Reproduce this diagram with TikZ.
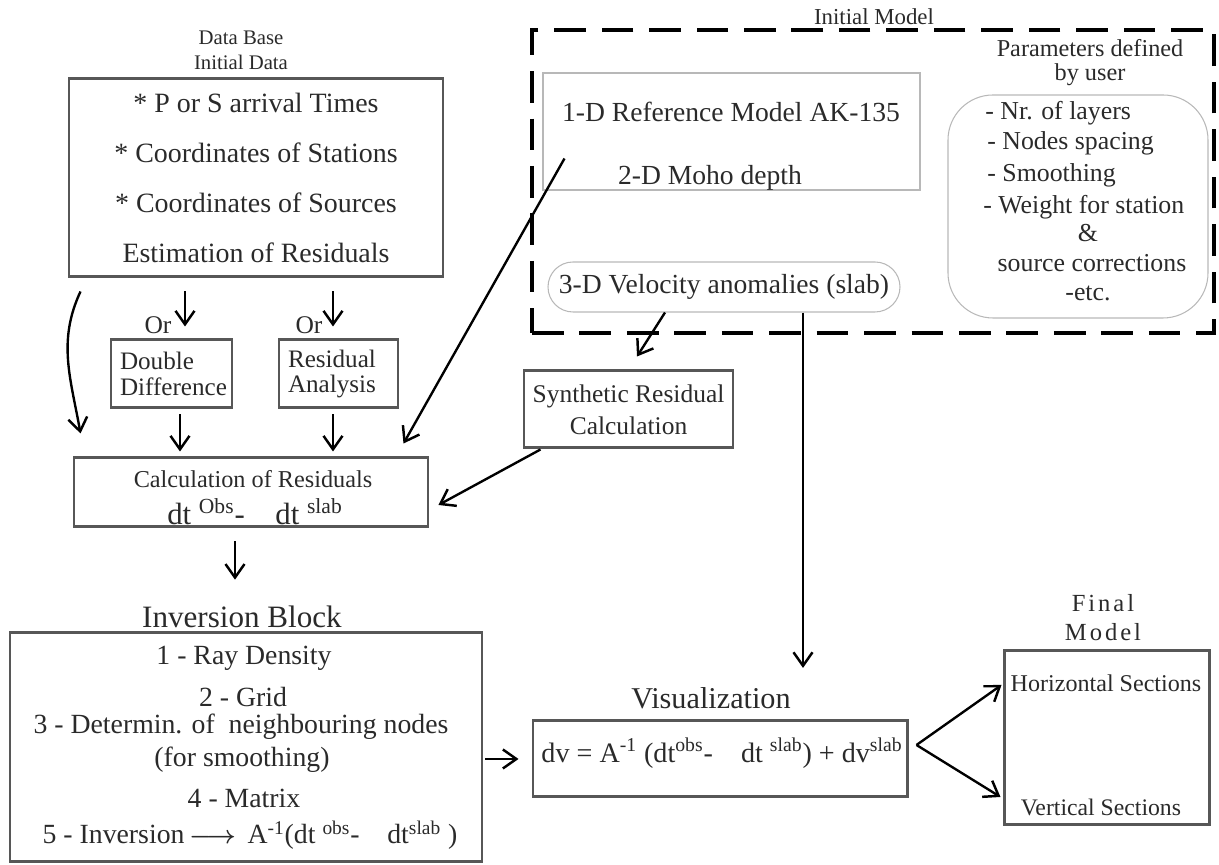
\documentclass[tikz,border=0pt]{standalone}
\usepackage{fontspec}
\setmainfont{Liberation Serif}
\usetikzlibrary{arrows.meta,positioning,calc}
\definecolor{BoxGray} {HTML}{575757}
\definecolor{LineGray}{HTML}{B8B8B8}
\definecolor{TextGray}{HTML}{2A2A2A}
\tikzset{
  gbox/.style={rectangle,draw=BoxGray,line width=1.7pt,inner sep=0pt},
  lbox/.style={rectangle,draw=LineGray,line width=0.6pt},
  dbox/.style={rectangle,draw=black,line width=2pt,dash pattern=on 18pt off 9pt},
  arr/.style={-{Straight Barb[length=2.7mm,width=3.8mm,line width=1.4pt]},line width=1.35pt},
  txt/.style={font=\fontsize{15.7}{18}\selectfont,text=TextGray,inner sep=0pt},
  ptxt/.style={font=\fontsize{14.7}{17}\selectfont,text=TextGray,inner sep=0pt},
  itxt/.style={font=\fontsize{15.8}{18}\selectfont,text=TextGray,inner sep=0pt},
  stxt/.style={font=\fontsize{13.7}{15}\selectfont,text=TextGray,inner sep=0pt},
}
\begin{document}
\begin{tikzpicture}
  \useasboundingbox (0,0) rectangle (24.38,17.30);

  % data base
  \node[stxt,font=\fontsize{11.8}{13}\selectfont] (dbtitle1) at (4.82,16.54){Data Base};
  \node[stxt,font=\fontsize{11.8}{13}\selectfont] (dbtitle2) at (4.82,16.06){Initial Data};
  \node[gbox,minimum width=7.48cm,minimum height=3.96cm,align=center,text=TextGray,
        font=\fontsize{15.9}{28.4}\selectfont] (dbase) at (5.12,13.74)
    {* P or S arrival Times\\* Coordinates of Stations\\* Coordinates of Sources\\Estimation of Residuals};

  % initial model
  \node[dbox,minimum width=13.64cm,minimum height=6.06cm] (initmodel) at (17.46,13.67){};
  \node[stxt,font=\fontsize{13}{15}\selectfont] (imlabel) at (17.48,16.96){Initial Model};
  \node[lbox,minimum width=7.54cm,minimum height=2.34cm] (refbox) at (14.63,14.67){};
  \node[txt] (ref1d) at (14.62,15.06){1-D Reference Model AK-135};
  \node[txt] (moho)  at (14.20,13.74){2-D Moho depth};
  \node[lbox,txt,rounded corners=0.5cm,minimum width=7.04cm,minimum height=1.0cm] (vel)
    at (14.48,11.56){3-D Velocity anomalies (slab)};

  \node[stxt,font=\fontsize{13.8}{15}\selectfont] (partitle1) at (21.80,16.34){Parameters defined};
  \node[stxt,font=\fontsize{13.8}{15}\selectfont] (partitle2) at (21.80,15.80){by user};
  \node[lbox,rounded corners=0.9cm,minimum width=5.20cm,minimum height=4.46cm] (params)
    at (21.56,13.17){};
  \node[ptxt,anchor=west] (par1) at (19.70,15.04){- Nr. of layers};
  \node[ptxt,anchor=west] (par2) at (19.74,14.44){- Nodes spacing};
  \node[ptxt,anchor=west] (par3) at (19.74,13.80){- Smoothing};
  \node[ptxt,anchor=west] (par4) at (19.66,13.16){- Weight for station};
  \node[ptxt] (par5) at (21.76,12.64){\&};
  \node[ptxt] (par6) at (21.84,12.04){source corrections};
  \node[ptxt] (par7) at (21.76,11.44){-etc.};

  % residual branches
  \node[ptxt,font=\fontsize{14.5}{16}\selectfont] (or1) at (3.16,10.80){Or};
  \node[ptxt,font=\fontsize{14.5}{16}\selectfont] (or2) at (6.18,10.80){Or};
  \node[gbox,minimum width=2.42cm,minimum height=1.36cm,inner xsep=0.18cm,text width=2.06cm,
        align=left,text=TextGray,font=\fontsize{14.3}{14.6}\selectfont] (dd)
    at (3.43,9.82){Double\\Difference};
  \node[gbox,minimum width=2.38cm,minimum height=1.36cm,inner xsep=0.18cm,text width=2.02cm,
        align=left,text=TextGray,font=\fontsize{14.3}{14.6}\selectfont] (ra)
    at (6.77,9.82){Residual\\Analysis};

  \node[gbox,minimum width=7.08cm,minimum height=1.38cm] (calc) at (5.02,7.45){};
  \node[stxt,font=\fontsize{13.8}{15}\selectfont,anchor=base] (calctxt) at (5.06,7.54)
    {Calculation of Residuals};
  \node[stxt,font=\fontsize{17.5}{20}\selectfont,anchor=base] (calceq) at (5.10,6.80)
    {dt \textsuperscript{Obs}-\quad dt \textsuperscript{slab}};

  \node[gbox,minimum width=4.18cm,minimum height=1.54cm,align=center,text=TextGray,
        font=\fontsize{14.5}{18.1}\selectfont] (syn) at (12.57,9.11)
    {Synthetic Residual\\Calculation};

  % inversion
  \node[txt,font=\fontsize{17.7}{20}\selectfont] (invlabel) at (4.84,4.96){Inversion Block};
  \node[gbox,minimum width=9.44cm,minimum height=4.58cm] (inv) at (4.92,2.35){};
  \node[itxt] (inv1) at (4.88,4.14){1 - Ray Density};
  \node[itxt] (inv2) at (4.86,3.36){2 - Grid};
  \node[itxt] (inv3) at (4.82,2.76){3 - Determin. of~ neighbouring nodes};
  \node[itxt] (inv4) at (4.84,2.10){(for smoothing)};
  \node[itxt] (inv5) at (4.88,1.34){4 - Matrix};
  \node[itxt] (inv6) at (5.00,0.60)
    {5 - Inversion\,{\boldmath$\longrightarrow$}\, A\textsuperscript{-1}(dt \textsuperscript{obs}-\quad dt\textsuperscript{slab} )};

  % visualization
  \node[txt,font=\fontsize{17.2}{20}\selectfont] (vizlabel) at (14.22,3.34){Visualization};
  \node[gbox,minimum width=7.48cm,minimum height=1.52cm] (viz) at (14.40,2.12){};
  \node[txt,font=\fontsize{16}{18}\selectfont,anchor=base] (vizeq) at (14.44,2.04)
    {dv = A\textsuperscript{-1} (dt\textsuperscript{obs}-\quad dt \textsuperscript{slab}) + dv\textsuperscript{slab}};

  % final model
  \node[txt,font=\fontsize{14}{16}\selectfont\addfontfeatures{LetterSpace=12}] (fin1) at (22.06,5.24){Final};
  \node[txt,font=\fontsize{14}{16}\selectfont\addfontfeatures{LetterSpace=12}] (fin2) at (22.06,4.66){Model};
  \node[gbox,minimum width=4.10cm,minimum height=3.48cm] (final) at (22.13,2.54){};
  \node[stxt] (hsec) at (22.12,3.64){Horizontal Sections};
  \node[stxt,font=\fontsize{13.5}{15}\selectfont] (vsec) at (22.02,1.16){Vertical Sections};

  % connectors
  \draw[arr] ($(dbase.south west)+(0.26,-0.26)$) to[out=-115,in=100] ($(calc.north west)+(0.16,0.46)$);
  \draw[arr] ($(dd.north |- dbase.south)+(0.27,-0.26)$) -- ($(dd.north)+(0.27,0.24)$);
  \draw[arr] ($(ra.north |- dbase.south)+(-0.11,-0.26)$) -- ($(ra.north)+(-0.11,0.24)$);
  \draw[arr] ($(dd.south)+(0.17,-0.10)$) -- ($(dd.south |- calc.north)+(0.17,0.10)$);
  \draw[arr] ($(ra.south)+(-0.11,-0.10)$) -- ($(ra.south |- calc.north)+(-0.11,0.10)$);
  \draw[arr] ($(refbox.south west)+(0.44,0.64)$) -- ($(calc.north east)+(-0.52,0.26)$);
  \draw[arr] ($(vel.south)+(-1.18,0)$) -- ($(syn.north)+(0.17,0.26)$);
  \draw[arr] ($(syn.south west)+(0.36,0)$) -- ($(calc.east)+(0.18,-0.25)$);
  \draw[arr] ($(calc.south)+(-0.32,-0.26)$) -- ($(calc.south |- invlabel.north)+(-0.32,0.52)$);
  \draw[arr] ($(vel.south)+(1.58,0)$) -- ($(vel.south |- vizlabel.north)+(1.58,0.38)$);
  \draw[arr] ($(inv.east |- viz.west)+(0.04,0)$) -- ($(viz.west)+(-0.26,0)$);
  \coordinate (fork) at ($(viz.east)+(0.16,0.28)$);
  \draw[arr] (fork) -- ($(final.west)+(-0.02,1.06)$);
  \draw[arr] (fork) -- ($(final.west)+(-0.04,-1.18)$);

\end{tikzpicture}
\end{document}
